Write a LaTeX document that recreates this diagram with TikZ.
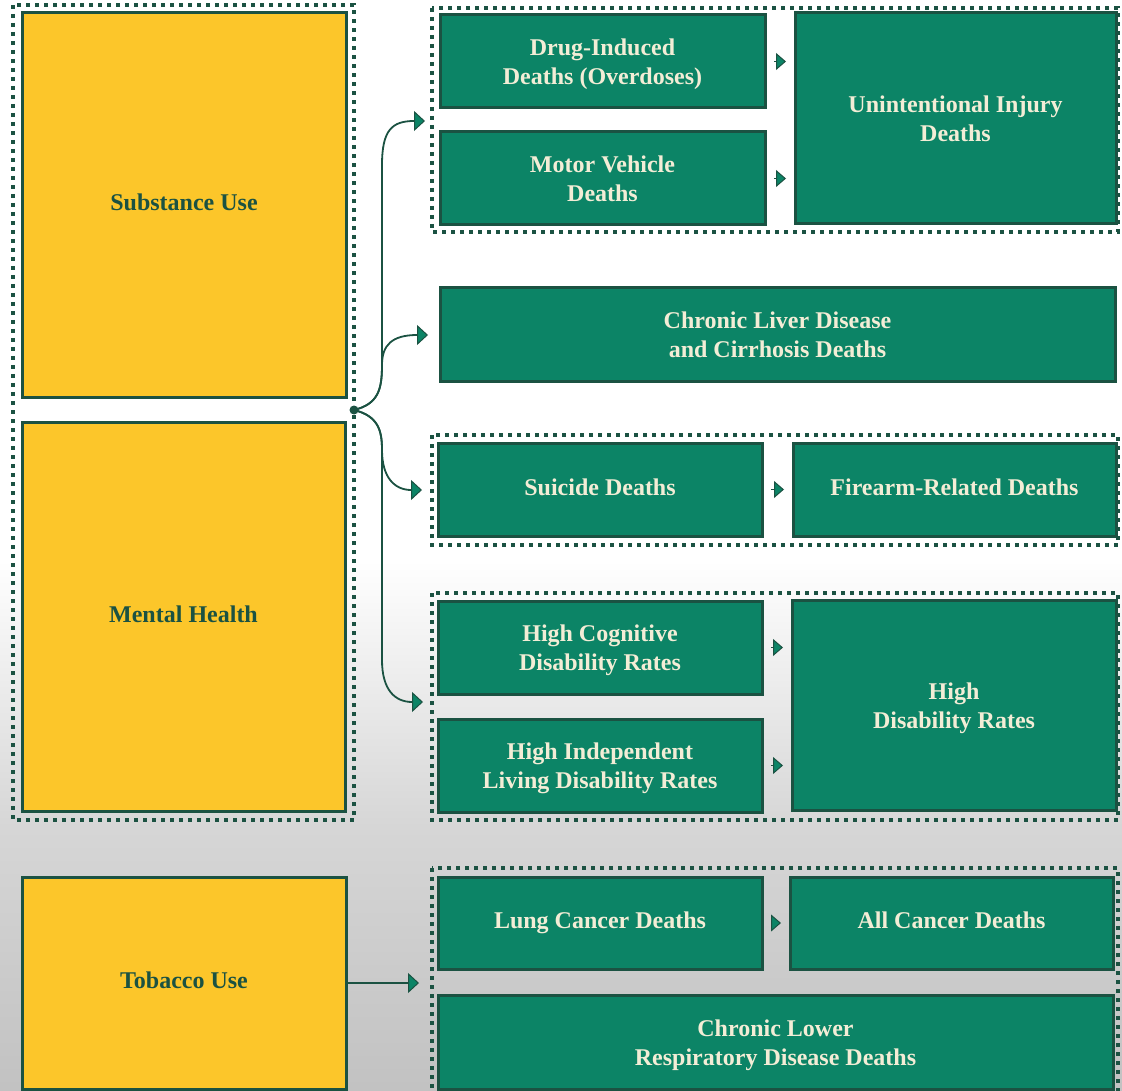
\documentclass[tikz,border=0pt]{standalone}
\usepackage{fontspec}
\setmainfont{Liberation Serif}
\usetikzlibrary{arrows.meta,calc}
\definecolor{dk}{HTML}{1B5242}
\definecolor{teal2}{HTML}{0C8466}
\definecolor{yel}{HTML}{FCC62A}
\definecolor{cream}{HTML}{F3EDD6}
\begin{document}
\begin{tikzpicture}[x=1pt,y=-1pt,
  box/.style={rectangle, draw=dk, line width=3pt, inner sep=0pt, outer sep=0pt, align=center,
    font=\bfseries\fontsize{24}{29}\selectfont},
  one/.style={text height=16pt, text depth=5pt},
  two/.style={text height=46pt, text depth=0pt},
  ybox/.style={box, fill=yel, text=dk},
  gbox/.style={box, fill=teal2, text=cream},
  grp/.style={draw=dk, line width=4pt, dash pattern=on 4pt off 5pt},
  conn/.style={draw=dk, line width=1.8pt, -{Triangle[length=11pt,width=20pt,fill=teal2,line width=1pt]}},
  smallarr/.style={draw=dk, line width=1pt, shorten <=9pt, shorten >=9pt,
    -{Triangle[length=10pt,width=17pt,fill=teal2]}},
  hubdot/.style={circle, fill=dk, inner sep=0pt, minimum size=9pt}]
\useasboundingbox (0,0) rectangle (1122,1091);
% background
\fill[white] (0,0) rectangle (1122,1091);
\shade[top color=white, bottom color=black!24, middle color=black!16] (0,560) rectangle (1122,1091);
% group outlines
\draw[grp] (13,5) rectangle (354,820);
\draw[grp] (432,8) rectangle (1118,232);
\draw[grp] (432,435) rectangle (1118,545);
\draw[grp] (432,593) rectangle (1118,820);
\draw[grp] (432,868) rectangle (1118,1096);
% yellow boxes
\node[ybox, one, minimum width=324pt, minimum height=384pt] (sub) at (184,205) {Substance Use};
\node[ybox, one, minimum width=323pt, minimum height=389pt] (men) at (183.5,616.5) {Mental Health};
\node[ybox, one, minimum width=324pt, minimum height=212pt] (tob) at (184,983) {Tobacco Use};
% green boxes
\node[gbox, two, minimum width=325pt, minimum height=93pt] (drug) at (602.5,61.5) {Drug-Induced\\Deaths (Overdoses)};
\node[gbox, two, minimum width=325pt, minimum height=93pt] (motor) at (602.5,178.5) {Motor Vehicle\\Deaths};
\node[gbox, two, minimum width=321pt, minimum height=211pt] (unint) at (955.5,118.5) {Unintentional Injury\\Deaths};
\node[gbox, two, minimum width=675pt, minimum height=93pt] (liver) at (777.5,334.5) {Chronic Liver Disease\\and Cirrhosis Deaths};
\node[gbox, one, minimum width=324pt, minimum height=93pt] (sui) at (600,489.5) {Suicide Deaths};
\node[gbox, one, minimum width=323pt, minimum height=93pt] (fire) at (954.5,489.5) {Firearm-Related Deaths};
\node[gbox, two, minimum width=324pt, minimum height=93pt] (cog) at (600,647.5) {High Cognitive\\Disability Rates};
\node[gbox, two, minimum width=324pt, minimum height=93pt] (ind) at (600,765.5) {High Independent\\Living Disability Rates};
\node[gbox, two, minimum width=324pt, minimum height=210pt] (hdis) at (954,705) {High\\Disability Rates};
\node[gbox, one, minimum width=324pt, minimum height=92pt] (lung) at (600,923) {Lung Cancer Deaths};
\node[gbox, one, minimum width=323pt, minimum height=92pt] (allc) at (951.5,923) {All Cancer Deaths};
\node[gbox, two, minimum width=675pt, minimum height=94pt] (clrd) at (775.5,1042) {Chronic Lower\\Respiratory Disease Deaths};
% small arrows between boxes
\draw[smallarr] (drug.east) -- (drug.east -| unint.west);
\draw[smallarr] (motor.east) -- (motor.east -| unint.west);
\draw[smallarr] (sui.east) -- (fire.west);
\draw[smallarr] (cog.east) -- (cog.east -| hdis.west);
\draw[smallarr] (ind.east) -- (ind.east -| hdis.west);
\draw[smallarr] (lung.east) -- (allc.west);
% hub connectors
\node[hubdot] (hub) at (354,410) {};
\coordinate (t1) at (425,121);
\coordinate (t2) at (428,335);
\coordinate (t3) at (422,490);
\coordinate (t4) at (423,702);
\coordinate (t5) at (419,983);
\draw[conn] (hub.center) .. controls (378,404) and (382,390) .. (382,365) -- (382,165)
  .. controls (382,130) and (392,121) .. (t1);
\draw[conn] (hub.center) .. controls (378,404) and (382,390) .. (382,365)
  .. controls (382,345) and (392,335) .. (t2);
\draw[conn] (hub.center) .. controls (378,416) and (382,430) .. (382,450)
  .. controls (382,478) and (395,490) .. (t3);
\draw[conn] (hub.center) .. controls (378,416) and (382,430) .. (382,450) -- (382,660)
  .. controls (382,690) and (395,702) .. (t4);
\draw[conn] (tob.east) -- (t5);
\end{tikzpicture}
\end{document}
